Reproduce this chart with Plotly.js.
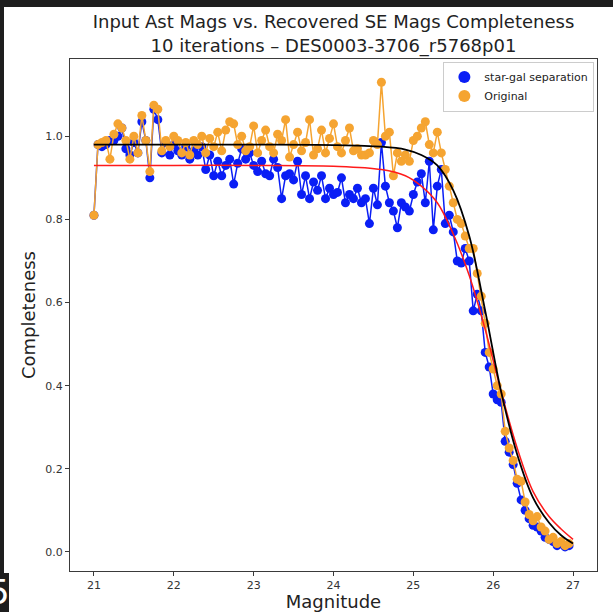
<!DOCTYPE html>
<html>
<head>
<meta charset="utf-8">
<script src="https://cdn.plot.ly/plotly-3.0.1.min.js"></script>
<style>
  html, body { margin: 0; padding: 0; background: #1e1e1e; width: 613px; height: 612px; overflow: hidden; }
  #chart { position: absolute; left: 4px; top: 7px; width: 609px; height: 605px; }
  #cellnum { position: absolute; left: 0; top: 573px; width: 9px; height: 39px; background: #1e1e1e; color: #fff;
             font-family: "DejaVu Sans", sans-serif; font-size: 34px; line-height: 39px; overflow: hidden; text-indent: -12px; }
</style>
</head>
<body>
<div id="chart"></div>
<div id="cellnum">5</div>
<script>
// Magnitude bins (input asteroid magnitudes)
const magnitudes = [
  21.00,21.05,21.10,21.15,21.20,21.25,21.30,21.35,21.40,21.45,
  21.50,21.55,21.60,21.65,21.70,21.75,21.80,21.85,21.90,21.95,
  22.00,22.05,22.10,22.15,22.20,22.25,22.30,22.35,22.40,22.45,
  22.50,22.55,22.60,22.65,22.70,22.75,22.80,22.85,22.90,22.95,
  23.00,23.05,23.10,23.15,23.20,23.25,23.30,23.35,23.40,23.45,
  23.50,23.55,23.60,23.65,23.70,23.75,23.80,23.85,23.90,23.95,
  24.00,24.05,24.10,24.15,24.20,24.25,24.30,24.35,24.40,24.45,
  24.50,24.55,24.60,24.65,24.70,24.75,24.80,24.85,24.90,24.95,
  25.00,25.05,25.10,25.15,25.20,25.25,25.30,25.35,25.40,25.45,
  25.50,25.55,25.60,25.65,25.70,25.75,25.80,25.85,25.90,25.95,
  26.00,26.05,26.10,26.15,26.20,26.25,26.30,26.35,26.40,26.45,
  26.50,26.55,26.60,26.65,26.70,26.75,26.80,26.85,26.90,26.95
];
// Completeness after star-galaxy separation
const starGalSep = [
  0.81,0.98,0.975,0.98,0.99,0.99,1.00,1.02,0.97,0.955,
  0.985,0.96,1.035,0.99,0.90,1.065,1.04,0.96,0.985,0.955,
  0.98,0.965,0.955,0.975,0.945,0.965,0.955,0.975,0.92,0.955,
  0.905,0.94,0.905,0.93,0.945,0.885,0.935,0.97,0.945,0.96,
  0.93,0.915,0.94,0.91,0.905,0.945,0.925,0.85,0.905,0.91,
  0.895,0.94,0.86,0.905,0.85,0.89,0.87,0.905,0.85,0.875,
  0.86,0.865,0.90,0.84,0.86,0.85,0.875,0.84,0.85,0.79,
  0.875,0.835,0.985,0.88,0.84,0.82,0.78,0.84,0.83,0.82,
  0.86,0.89,0.91,0.84,0.94,0.775,0.88,0.92,0.79,0.81,
  0.77,0.70,0.695,0.73,0.70,0.58,0.62,0.58,0.48,0.445,
  0.38,0.366,0.36,0.266,0.24,0.21,0.165,0.125,0.10,0.08,
  0.064,0.06,0.05,0.035,0.03,0.025,0.015,0.02,0.012,0.015
];
// Original completeness
const original = [
  0.81,0.98,0.985,0.99,0.945,1.005,1.03,1.02,0.99,0.945,
  1.00,0.96,1.05,0.99,0.915,1.075,1.065,0.965,0.99,0.975,
  1.00,0.99,0.96,0.985,0.955,0.99,0.98,1.00,0.96,0.995,
  0.975,1.01,0.965,1.015,1.035,1.03,0.98,1.00,0.965,0.975,
  1.025,0.96,0.99,1.015,0.975,0.96,1.005,0.99,1.04,0.95,
  0.98,1.01,0.965,0.985,1.04,0.955,0.97,1.015,0.96,0.995,
  1.03,0.975,0.96,0.99,1.02,0.965,0.97,0.955,0.955,0.96,
  0.99,0.98,1.13,1.00,1.01,0.905,0.96,0.94,0.955,0.94,
  0.99,1.00,1.02,1.035,0.98,0.96,1.01,0.96,0.92,0.88,
  0.84,0.80,0.79,0.76,0.73,0.73,0.67,0.615,0.55,0.48,
  0.44,0.40,0.38,0.29,0.25,0.22,0.175,0.17,0.12,0.09,
  0.075,0.085,0.06,0.05,0.03,0.035,0.02,0.025,0.015,0.02
];
// Fitted completeness curves
const fitMags = [21.0,22.0,23.0,24.0,24.6,24.9,25.1,25.3,25.5,25.7,25.9,26.1,26.3,26.5,26.7,26.85,27.0];
const fitOriginal = [0.98,0.98,0.98,0.979,0.975,0.968,0.955,0.93,0.87,0.76,0.58,0.385,0.235,0.13,0.07,0.04,0.02];
const fitSep = [0.93,0.93,0.93,0.928,0.92,0.905,0.88,0.84,0.765,0.665,0.535,0.385,0.25,0.145,0.085,0.055,0.03];

const titleText = 'Input Ast Mags vs. Recovered SE Mags Completeness<br>10 iterations – DES0003-3706_r5768p01';
const seriesNames = ['star-gal separation', 'Original'];

const blue = '#0a1ef5';
const orange = '#f5a431';

const traces = [
  { x: magnitudes, y: starGalSep, mode: 'lines+markers', showlegend: false,
    line: { color: blue, width: 1.5 }, marker: { color: blue, size: 9 } },
  { x: magnitudes, y: original, mode: 'lines+markers', showlegend: false,
    line: { color: orange, width: 1.5 }, marker: { color: orange, size: 9 } },
  { x: fitMags, y: fitSep, mode: 'lines', showlegend: false,
    line: { color: '#ff1a1a', width: 1.5, shape: 'spline' } },
  { x: fitMags, y: fitOriginal, mode: 'lines', showlegend: false,
    line: { color: '#000000', width: 1.8, shape: 'spline' } },
  { x: magnitudes, y: starGalSep, mode: 'markers', name: seriesNames[0], hoverinfo: 'skip',
    marker: { color: blue, size: 9, opacity: 0 }, showlegend: true },
  { x: magnitudes, y: original, mode: 'markers', name: seriesNames[1], hoverinfo: 'skip',
    marker: { color: orange, size: 9, opacity: 0 }, showlegend: true }
];

const axisCommon = {
  showgrid: false, zeroline: false, showline: true, mirror: true,
  linecolor: '#3a3a3a', linewidth: 1, ticks: 'outside', ticklen: 4, tickwidth: 1,
  tickcolor: '#3a3a3a', tickfont: { family: 'DejaVu Sans', size: 11, color: '#333' }
};

const layout = {
  width: 609, height: 605,
  paper_bgcolor: '#ffffff', plot_bgcolor: '#ffffff',
  margin: { l: 66, r: 16, t: 52, b: 41 },
  font: { family: 'DejaVu Sans', color: '#222' },
  title: { text: titleText, x: 0.5, xref: 'paper', xanchor: 'center', y: 0.965, yref: 'container', yanchor: 'top',
           automargin: false,
           font: { family: 'DejaVu Sans', size: 18, color: '#222' } },
  xaxis: Object.assign({}, axisCommon, {
    range: [20.7, 27.3], tickvals: [21,22,23,24,25,26,27], ticktext: ['21','22','23','24','25','26','27'],
    title: { text: 'Magnitude', font: { family: 'DejaVu Sans', size: 18, color: '#222' }, standoff: 4 }
  }),
  yaxis: Object.assign({}, axisCommon, {
    range: [-0.046, 1.186], tickvals: [0,0.2,0.4,0.6,0.8,1.0], ticktext: ['0.0','0.2','0.4','0.6','0.8','1.0'],
    title: { text: 'Completeness', font: { family: 'DejaVu Sans', size: 18, color: '#222' }, standoff: 4 }
  }),
  legend: { x: 0.995, y: 0.995, xanchor: 'right', yanchor: 'top', bgcolor: 'rgba(255,255,255,0.8)',
            bordercolor: '#cccccc', borderwidth: 1, font: { family: 'DejaVu Sans', size: 11, color: '#222' },
            itemsizing: 'constant', tracegroupgap: 0 },
  showlegend: true
};

Plotly.newPlot('chart', traces, layout, { displayModeBar: false, staticPlot: true }).then(function () {
  document.querySelectorAll('.legend .scatterpts path, .legend .legendpoints path').forEach(function (p) {
    p.style.opacity = 1; p.style.fillOpacity = 1;
  });
});
</script>
</body>
</html>
